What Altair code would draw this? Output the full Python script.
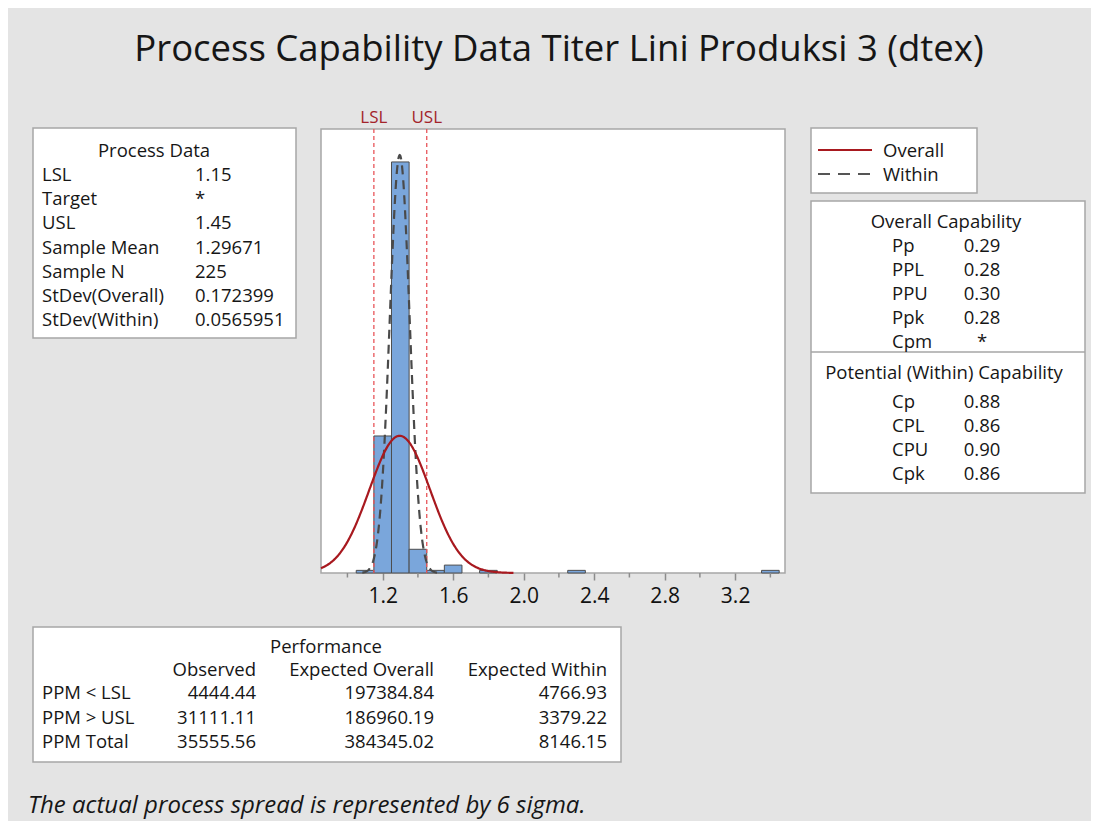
import altair as alt
import pandas as pd

# ---------------- data ----------------
BIN_START = [1.05, 1.15, 1.25, 1.35, 1.45, 1.55, 1.75, 2.25, 3.35]
BIN_END = [1.15, 1.25, 1.35, 1.45, 1.55, 1.65, 1.85, 2.35, 3.45]
COUNTS = [1, 52, 156, 9, 1, 3, 1, 1, 1]

SPEC_NAMES = ["LSL", "USL"]
SPEC_VALUES = [1.15, 1.45]
MEAN = 1.29671
N = 225
SD_OVERALL = 0.172399
SD_WITHIN = 0.0565951
BIN_WIDTH = 0.1

X_LABELED_TICKS = [1.2, 1.6, 2.0, 2.4, 2.8, 3.2]
X_MINOR_TICKS = [1.0, 1.4, 1.8, 2.2, 2.6, 3.0, 3.4]

TITLE = "Process Capability Data Titer Lini Produksi 3 (dtex)"
FOOTNOTE = "The actual process spread is represented by 6 sigma."

PROCESS_HEADER = "Process Data"
PROCESS_LABELS = ["LSL", "Target", "USL", "Sample Mean", "Sample N",
                  "StDev(Overall)", "StDev(Within)"]
PROCESS_VALUES = ["1.15", "*", "1.45", "1.29671", "225", "0.172399", "0.0565951"]

LEGEND_NAMES = ["Overall", "Within"]

OVERALL_HEADER = "Overall Capability"
OVERALL_LABELS = ["Pp", "PPL", "PPU", "Ppk", "Cpm"]
OVERALL_VALUES = ["0.29", "0.28", "0.30", "0.28", "*"]
WITHIN_HEADER = "Potential (Within) Capability"
WITHIN_LABELS = ["Cp", "CPL", "CPU", "Cpk"]
WITHIN_VALUES = ["0.88", "0.86", "0.90", "0.86"]

PERF_HEADER = "Performance"
PERF_ROWS = ["PPM < LSL", "PPM > USL", "PPM Total"]
PERF_COLS = ["Observed", "Expected Overall", "Expected Within"]
PERF_OBSERVED = ["4444.44", "31111.11", "35555.56"]
PERF_EXP_OVERALL = ["197384.84", "186960.19", "384345.02"]
PERF_EXP_WITHIN = ["4766.93", "3379.22", "8146.15"]

# ---------------- layout ----------------
FONT = "Open Sans"
INK = "#161616"
BOX_STROKE = "#a6a6a6"
TXT = 18.5
OX, OY = 321, 129          # page position of the plot area
W, H = 464, 444            # plot area size
CANVAS_W, CANVAS_H = 1083, 813
PAD = {"left": OX - 8, "top": OY - 8,
       "right": CANVAS_W - (OX - 8) - W, "bottom": CANVAS_H - (OY - 8) - H}


def vx(px):
    return px - OX


def vy(py):
    return py - OY


X_SCALE = alt.Scale(domain=[0.85, 3.483], nice=False, zero=False)
Y_SCALE = alt.Scale(domain=[0, 168.5], nice=False, zero=True)

PX = alt.X("x:Q", scale=None, axis=None)
PY = alt.Y("y:Q", scale=None, axis=None)


def text_layer(rows, align="left", size=TXT, color=INK, style="normal", weight="normal"):
    df = pd.DataFrame(rows, columns=["text", "x", "y"])
    return alt.Chart(df).mark_text(
        align=align, baseline="middle", font=FONT, fontSize=size,
        color=color, fontStyle=style, fontWeight=weight
    ).encode(x=PX, y=PY, text="text:N")


# --- boxes
boxes = pd.DataFrame({
    "x": [vx(33), vx(811), vx(811), vx(33)],
    "x2": [vx(296), vx(977), vx(1085), vx(621)],
    "y": [vy(128), vy(128), vy(201), vy(627)],
    "y2": [vy(338), vy(193), vy(493), vy(762)],
})
box_layer = alt.Chart(boxes).mark_rect(
    fill="white", stroke=BOX_STROKE, strokeWidth=1.5
).encode(x=PX, x2="x2:Q", y=PY, y2="y2:Q")

divider = alt.Chart(pd.DataFrame({"a": [0]})).mark_rule(
    color=BOX_STROKE, strokeWidth=1.5
).encode(x=alt.value(vx(811)), x2=alt.value(vx(1085)), y=alt.value(vy(352)))

# --- legend sample lines
leg_overall = alt.Chart(pd.DataFrame({"a": [0]})).mark_rule(
    color="#a8191f", strokeWidth=2.2
).encode(x=alt.value(vx(818)), x2=alt.value(vx(872)), y=alt.value(vy(150)))
leg_within = alt.Chart(pd.DataFrame({"a": [0]})).mark_rule(
    color="#555555", strokeWidth=2.2, strokeDash=[12, 8]
).encode(x=alt.value(vx(818)), x2=alt.value(vx(872)), y=alt.value(vy(174)))

# --- texts
title_layer = text_layer([(TITLE, vx(559), vy(50))], align="center", size=36.5)
foot_layer = text_layer([(FOOTNOTE, vx(28), vy(806))], size=24, style="italic")

left_rows = []
center_rows = []
right_rows = []

center_rows.append((PROCESS_HEADER, vx(154), vy(151)))
for i, (lab, val) in enumerate(zip(PROCESS_LABELS, PROCESS_VALUES)):
    y = vy(175 + 24.2 * i)
    left_rows.append((lab, vx(42), y))
    left_rows.append((val, vx(195), y))

for i, name in enumerate(LEGEND_NAMES):
    left_rows.append((name, vx(883), vy(151 + 24 * i)))

center_rows.append((OVERALL_HEADER, vx(946), vy(222)))
for i, (lab, val) in enumerate(zip(OVERALL_LABELS, OVERALL_VALUES)):
    y = vy(246 + 24 * i)
    left_rows.append((lab, vx(892), y))
    center_rows.append((val, vx(982), y))

center_rows.append((WITHIN_HEADER, vx(944), vy(373)))
for i, (lab, val) in enumerate(zip(WITHIN_LABELS, WITHIN_VALUES)):
    y = vy(402 + 24 * i)
    left_rows.append((lab, vx(892), y))
    center_rows.append((val, vx(982), y))

center_rows.append((PERF_HEADER, vx(326), vy(647)))
col_right = [256, 434, 607]
for c, name in enumerate(PERF_COLS):
    right_rows.append((name, vx(col_right[c]), vy(670)))
for r, name in enumerate(PERF_ROWS):
    y = vy(693 + 24.5 * r)
    left_rows.append((name, vx(42), y))
    for c, col in enumerate([PERF_OBSERVED, PERF_EXP_OVERALL, PERF_EXP_WITHIN]):
        right_rows.append((col[r], vx(col_right[c]), y))

left_text = text_layer(left_rows, align="left")
center_text = text_layer(center_rows, align="center")
right_text = text_layer(right_rows, align="right")

# --- histogram
hist_df = pd.DataFrame({"start": BIN_START, "end": BIN_END, "count": COUNTS})
bars = alt.Chart(hist_df).mark_bar(
    fill="#7aa6db", stroke="#4d4d4d", strokeWidth=1
).encode(
    x=alt.X("start:Q", scale=X_SCALE, title=None,
            axis=alt.Axis(values=X_LABELED_TICKS, format=".1f", domain=False, grid=False,
                          ticks=True, tickSize=7, tickWidth=1.5, tickColor="#8c8c8c",
                          labelFont=FONT, labelFontSize=21, labelColor="#111111",
                          labelPadding=5)),
    x2="end:Q",
    y=alt.Y("count:Q", scale=Y_SCALE, axis=None),
    y2=alt.datum(0),
)

minor = alt.Chart(pd.DataFrame({"v": X_MINOR_TICKS})).mark_rule(
    color="#8c8c8c", strokeWidth=1.5
).encode(x=alt.X("v:Q", scale=X_SCALE, axis=None), y=alt.value(H), y2=alt.value(H + 4.5))

spec_df = pd.DataFrame({"name": SPEC_NAMES, "v": SPEC_VALUES})
spec_lines = alt.Chart(spec_df).mark_rule(
    color="#e8555a", strokeWidth=1.3, strokeDash=[4, 3]
).encode(x=alt.X("v:Q", scale=X_SCALE, axis=None), y=alt.value(0), y2=alt.value(H))
spec_text = alt.Chart(spec_df).mark_text(
    font=FONT, fontSize=17, color="#a3232a", baseline="middle", align="center"
).encode(x=alt.X("v:Q", scale=X_SCALE, axis=None), y=alt.value(-11), text="name:N")

# fitted normal curves from the stated parameters
o_lo = max(0.85, MEAN - 3.75 * SD_OVERALL)
o_hi = MEAN + 3.75 * SD_OVERALL
overall_curve = alt.Chart(alt.sequence(start=o_lo, stop=o_hi, step=0.004, as_="x")).transform_calculate(
    y=f"{N} * {BIN_WIDTH} * densityNormal(datum.x, {MEAN}, {SD_OVERALL})"
).mark_line(color="#a8191f", strokeWidth=2.2).encode(
    x=alt.X("x:Q", scale=X_SCALE, axis=None),
    y=alt.Y("y:Q", scale=Y_SCALE, axis=None),
)

w_lo = MEAN - 3.75 * SD_WITHIN
w_hi = MEAN + 3.75 * SD_WITHIN
within_curve = alt.Chart(alt.sequence(start=w_lo, stop=w_hi, step=0.002, as_="x")).transform_calculate(
    y=f"{N} * {BIN_WIDTH} * densityNormal(datum.x, {MEAN}, {SD_WITHIN})"
).mark_line(color="#4a4a4a", strokeWidth=2.2, strokeDash=[9, 6]).encode(
    x=alt.X("x:Q", scale=X_SCALE, axis=None),
    y=alt.Y("y:Q", scale=Y_SCALE, axis=None),
)

chart = alt.layer(
    box_layer, divider, leg_overall, leg_within,
    title_layer, foot_layer, left_text, center_text, right_text,
    bars, spec_lines, spec_text, within_curve, overall_curve, minor,
).resolve_scale(
    x="independent", y="independent"
).properties(
    width=W, height=H, padding=PAD,
    autosize=alt.AutoSizeParams(type="none"),
    background="#e4e4e4",
).configure_view(
    fill="white", stroke=BOX_STROKE, strokeWidth=1.5
)

chart.save("out.html", embed_options={"renderer": "svg", "actions": False})
